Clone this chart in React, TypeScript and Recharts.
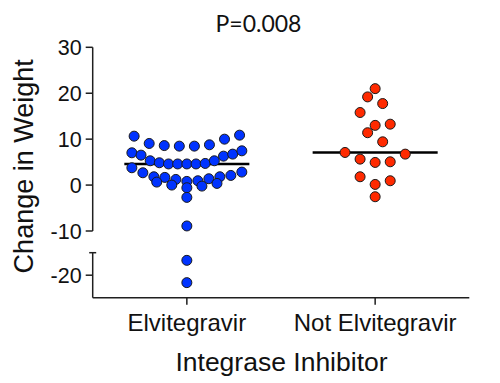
import { ScatterChart, Scatter, XAxis, YAxis, ReferenceLine } from 'recharts';

// groups on the x axis
const categories = ['Elvitegravir', 'Not Elvitegravir'];

// change in weight, grouped into the rows of the dot plot, left to right
const elvitegravirRows = [
  [10.65, 9.06, 8.6, 8.48, 8.48, 8.77, 10.0, 10.87],
  [7.03, 6.52, 5.29, 4.86, 4.6, 4.6, 4.6, 4.6, 4.71, 5.29, 6.3, 6.74, 7.46],
  [3.77, 2.68, 1.81, 1.67, 1.23, 0.8, 0.94, 1.38, 1.81, 2.1, 2.83],
  [0.65, 0.0, -0.58, -0.22, 0.36],
  [-2.68],
  [-8.9],
  [-16.7],
  [-21.65],
];

const notElvitegravirRows = [
  [21.0],
  [19.2, 17.75],
  [15.8, 13.0, 13.26],
  [11.4, 9.42],
  [7.1, 5.65, 4.93, 5.07, 6.74],
  [1.81, 0.14, 0.94],
  [-2.54],
];

const upperTicks = [30, 20, 10, 0, -10];
const lowerTicks = [-20, -15];
const pValue = 'P=0.008';

const AXIS = '#1f1f1f';
const FONT = '"Liberation Sans", Arial, sans-serif';
const TICK = 7;
const TICK_GAP = 4;
// horizontal spread of a row, in x-axis units
const SLOT = 0.08;
const ROW_WIDTH = 0.584;

function spread(rows: number[][], center: number) {
  return rows.flatMap((row) => {
    const n = row.length;
    const step = n > 1 ? Math.min(SLOT, ROW_WIDTH / (n - 1)) : 0;
    return row.map((v, i) => ({ x: center + (i - (n - 1) / 2) * step, y: v }));
  });
}

function median(rows: number[][]) {
  const s = rows.flat().sort((a, b) => a - b);
  const m = Math.floor(s.length / 2);
  return s.length % 2 ? s[m] : (s[m - 1] + s[m]) / 2;
}

const elvPoints = spread(elvitegravirRows, 1);
const notPoints = spread(notElvitegravirRows, 2);
const elvMedian = median(elvitegravirRows);
const notMedian = median(notElvitegravirRows);

const dot = (color: string) => (props: any) => (
  <circle cx={props.cx} cy={props.cy} r={5} fill={color} stroke="#1a1a1a" strokeWidth={1} />
);

const LowerTick = (props: any) => {
  const { x, y, payload } = props;
  const ax = x + TICK + TICK_GAP;
  if (payload.value === -15) {
    return <line x1={ax - 3.5} x2={ax + 3.5} y1={y} y2={y} stroke={AXIS} strokeWidth={1.5} />;
  }
  return (
    <g>
      <line x1={ax - TICK} x2={ax} y1={y} y2={y} stroke={AXIS} strokeWidth={1.5} />
      <text x={x} y={y} dy="0.355em" textAnchor="end" fontSize={21.5} fontFamily={FONT} fill="#111">
        {payload.value}
      </text>
    </g>
  );
};

const yTickStyle = { fontSize: 21.5, fontFamily: FONT, fill: '#111' };
const lineProps = { stroke: AXIS, strokeWidth: 1.5 };

export default function App() {
  const upper = (v: number) => v > -12.5;
  return (
    <div style={{ position: 'absolute', left: 0, top: 0, width: 500, height: 383, background: '#fff' }}>
      <div style={{ position: 'absolute', left: 0, top: 0 }}>
        <ScatterChart width={500} height={250} margin={{ top: 47.3, right: 30.7, bottom: 19, left: 0 }}>
          <XAxis type="number" dataKey="x" domain={[0.5, 2.5]} hide />
          <YAxis
            type="number" dataKey="y" domain={[-10, 30]} ticks={upperTicks} interval={0}
            width={92.7} tickSize={TICK} tickMargin={TICK_GAP}
            tick={yTickStyle} axisLine={lineProps} tickLine={lineProps}
          />
          <Scatter data={elvPoints.filter((p) => upper(p.y))} shape={dot('#0033ff')} isAnimationActive={false} />
          <Scatter data={notPoints.filter((p) => upper(p.y))} shape={dot('#ff2a00')} isAnimationActive={false} />
          <ReferenceLine segment={[{ x: 0.668, y: elvMedian }, { x: 1.332, y: elvMedian }]} stroke="#000" strokeWidth={2.5} />
          <ReferenceLine segment={[{ x: 1.668, y: notMedian }, { x: 2.332, y: notMedian }]} stroke="#000" strokeWidth={2.5} />
        </ScatterChart>
      </div>
      <div style={{ position: 'absolute', left: 0, top: 240 }}>
        <ScatterChart width={500} height={143} margin={{ top: 12.7, right: 30.7, bottom: 0, left: 0 }}>
          <XAxis
            type="number" dataKey="x" domain={[0.5, 2.5]} ticks={[1, 2]} interval={0}
            tickFormatter={(v) => categories[v - 1]} height={85.3} tickSize={TICK} tickMargin={9}
            tick={{ fontSize: 24, fontFamily: FONT, fill: '#111' }} axisLine={lineProps} tickLine={lineProps}
          />
          <YAxis
            type="number" dataKey="y" domain={[-25, -15]} ticks={lowerTicks} interval={0}
            width={92.7} tickSize={TICK} tickMargin={TICK_GAP}
            tick={<LowerTick />} axisLine={lineProps} tickLine={false}
          />
          <Scatter data={elvPoints.filter((p) => !upper(p.y))} shape={dot('#0033ff')} isAnimationActive={false} />
          <Scatter data={notPoints.filter((p) => !upper(p.y))} shape={dot('#ff2a00')} isAnimationActive={false} />
        </ScatterChart>
      </div>
      <svg width={500} height={383} style={{ position: 'absolute', left: 0, top: 0, pointerEvents: 'none' }}>
        <text x={258.5} y={31.7} textAnchor="middle" fontSize={23} fontFamily="Lato, 'Open Sans', sans-serif" fill="#111">
          {pValue}
        </text>
        <text
          x={32.7} y={166.3} textAnchor="middle" fontSize={27} fontFamily={FONT} fill="#111"
          transform="rotate(-90 32.7 166.3)"
        >
          Change in Weight
        </text>
        <text x={281.5} y={370.7} textAnchor="middle" fontSize={26.5} fontFamily={FONT} fill="#111">
          Integrase Inhibitor
        </text>
      </svg>
    </div>
  );
}
